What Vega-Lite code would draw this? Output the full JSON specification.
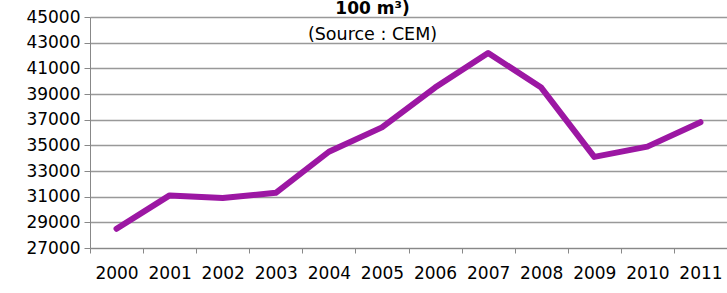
{
  "$schema": "https://vega.github.io/schema/vega-lite/v6.json",
  "autosize": "none",
  "width": 637,
  "height": 231,
  "padding": {"left": 90, "top": 17, "right": 0, "bottom": 45},
  "background": "white",
  "title": {
    "text": "100 m³)",
    "subtitle": "(Source : CEM)",
    "anchor": "middle",
    "frame": "group",
    "dx": -36,
    "offset": -36,
    "font": "DejaVu Sans",
    "fontSize": 17,
    "fontWeight": "bold",
    "color": "black",
    "subtitleFont": "DejaVu Sans",
    "subtitleFontSize": 17.5,
    "subtitleColor": "black",
    "subtitlePadding": 8
  },
  "data": {
    "values": [
      {"year": "2000", "value": 28500},
      {"year": "2001", "value": 31100},
      {"year": "2002", "value": 30900},
      {"year": "2003", "value": 31300},
      {"year": "2004", "value": 34500},
      {"year": "2005", "value": 36400},
      {"year": "2006", "value": 39500},
      {"year": "2007", "value": 42200},
      {"year": "2008", "value": 39500},
      {"year": "2009", "value": 34100},
      {"year": "2010", "value": 34900},
      {"year": "2011", "value": 36800}
    ]
  },
  "mark": {"type": "line", "color": "#9C17A3", "strokeWidth": 6, "strokeCap": "round", "strokeJoin": "round"},
  "encoding": {
    "x": {
      "field": "year",
      "type": "ordinal",
      "title": null,
      "scale": {"paddingInner": 0, "paddingOuter": 0},
      "axis": {
        "labelAngle": 0,
        "tickBand": "extent",
        "tickSize": 5,
        "tickColor": "#888888",
        "domainColor": "#888888",
        "labelFont": "DejaVu Sans",
        "labelFontSize": 17,
        "labelColor": "black",
        "labelPadding": 12,
        "grid": false
      }
    },
    "y": {
      "field": "value",
      "type": "quantitative",
      "title": null,
      "scale": {"domain": [27000, 45000], "nice": false, "zero": false},
      "axis": {
        "values": [27000, 29000, 31000, 33000, 35000, 37000, 39000, 41000, 43000, 45000],
        "format": "d",
        "tickSize": 6,
        "tickColor": "#888888",
        "domainColor": "#888888",
        "gridColor": "#999999",
        "gridWidth": 1.5,
        "labelFont": "DejaVu Sans",
        "labelFontSize": 17,
        "labelColor": "black",
        "labelPadding": 4
      }
    }
  },
  "config": {"view": {"stroke": null}}
}
